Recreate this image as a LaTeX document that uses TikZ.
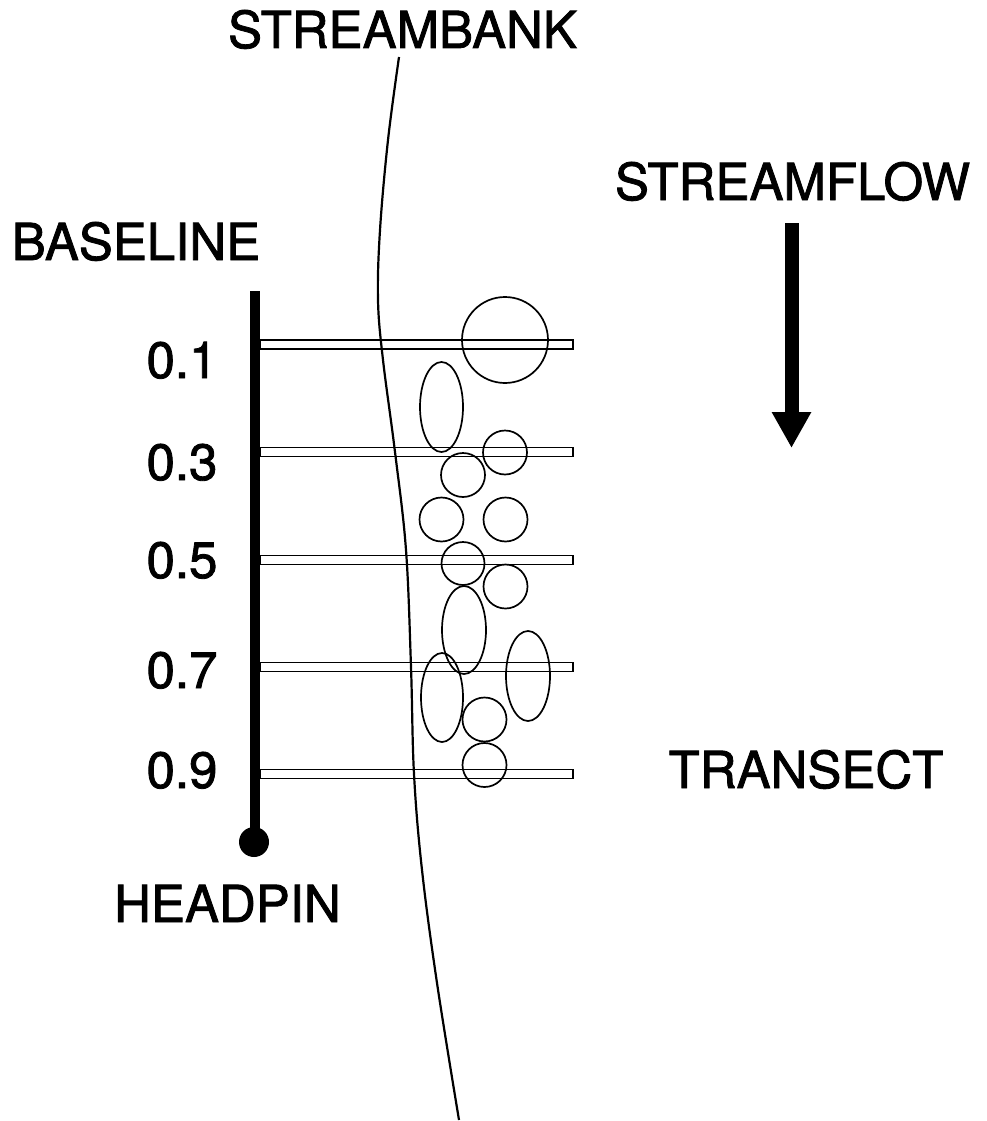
\documentclass[tikz,border=0pt]{standalone}
\usepackage{fontspec}
\setmainfont{TeX Gyre Heros}
\newfontfamily\lblfont{TeX Gyre Heros}[FakeBold=1.6]
\usetikzlibrary{shapes.geometric,arrows.meta}
\begin{document}
\begin{tikzpicture}[x=1pt,y=-1pt,
  lbl/.style={inner sep=0pt,font=\lblfont\fontsize{51}{60}\selectfont},
  transect/.style={draw,line width=1.6pt,rectangle,inner sep=0pt,minimum width=313pt,minimum height=9pt},
  stone/.style={draw,line width=1.7pt,circle,inner sep=0pt,minimum size=#1},
  oval/.style={draw,line width=1.7pt,ellipse,inner sep=0pt},
  bank/.style={line width=2.2pt}]
\useasboundingbox (0,0) rectangle (986,1121);
% labels
\node[lbl,anchor=base] (lbank) at (402.5,48) {STREAMBANK};
\node[lbl,anchor=base] (lflow) at (792.5,200) {STREAMFLOW};
\node[lbl,anchor=base] (lbase) at (136,260) {BASELINE};
\node[lbl,anchor=base] (lhead) at (227.5,922) {HEADPIN};
\node[lbl,anchor=base] (ltran) at (806,788) {TRANSECT};
\node[lbl,anchor=base] (l1) at (182,378) {0.1};
\node[lbl,anchor=base] (l3) at (182,480) {0.3};
\node[lbl,anchor=base] (l5) at (182,578) {0.5};
\node[lbl,anchor=base] (l7) at (182,688) {0.7};
\node[lbl,anchor=base] (l9) at (182,788) {0.9};
% streambank
\draw[bank] plot[smooth,tension=0.6] coordinates {(399,57) (388,140) (380,230) (378,300) (383,360) (395,452) (406,550) (411,667) (414,774) (422,870) (437,983) (459,1120)};
% transects
\node[transect] (t1) at (416.5,344.5) {};
\node[transect] (t3) at (416.5,452) {};
\node[transect] (t5) at (416.5,560) {};
\node[transect] (t7) at (416.5,667) {};
\node[transect] (t9) at (416.5,774) {};
% baseline and headpin
\node[circle,fill=black,inner sep=0pt,minimum size=30pt] (pin) at (254,842) {};
\coordinate (btop) at (255,291);
\draw[line width=10pt] (btop) -- (btop |- pin.center);
% stones
\node[stone=86pt] (s1) at (505,340) {};
\node[oval,minimum width=43pt,minimum height=90pt] (e1) at (441.5,407) {};
\node[stone=44pt] (s2) at (505,452.5) {};
\node[stone=44pt] (s3) at (463,475) {};
\node[stone=44pt] (s4) at (441.5,519.5) {};
\node[stone=44pt] (s5) at (505.5,519.5) {};
\node[stone=43pt] (s6) at (463,563.5) {};
\node[stone=44pt] (s7) at (505.5,586.5) {};
\node[oval,minimum width=44pt,minimum height=88pt] (e2) at (464,630) {};
\node[oval,minimum width=44pt,minimum height=90pt] (e3) at (528,676) {};
\node[oval,minimum width=42pt,minimum height=89pt] (e4) at (442,697.5) {};
\node[stone=44pt] (s8) at (484.5,719.5) {};
\node[stone=44pt] (s9) at (484.5,765) {};
% flow arrow
\coordinate (ftop) at (791.5,223);
\coordinate (ftip) at (791.5,448);
\draw[line width=14pt,-{Triangle[width=37pt,length=36pt]}] (ftop) -- (ftip);
\end{tikzpicture}
\end{document}
